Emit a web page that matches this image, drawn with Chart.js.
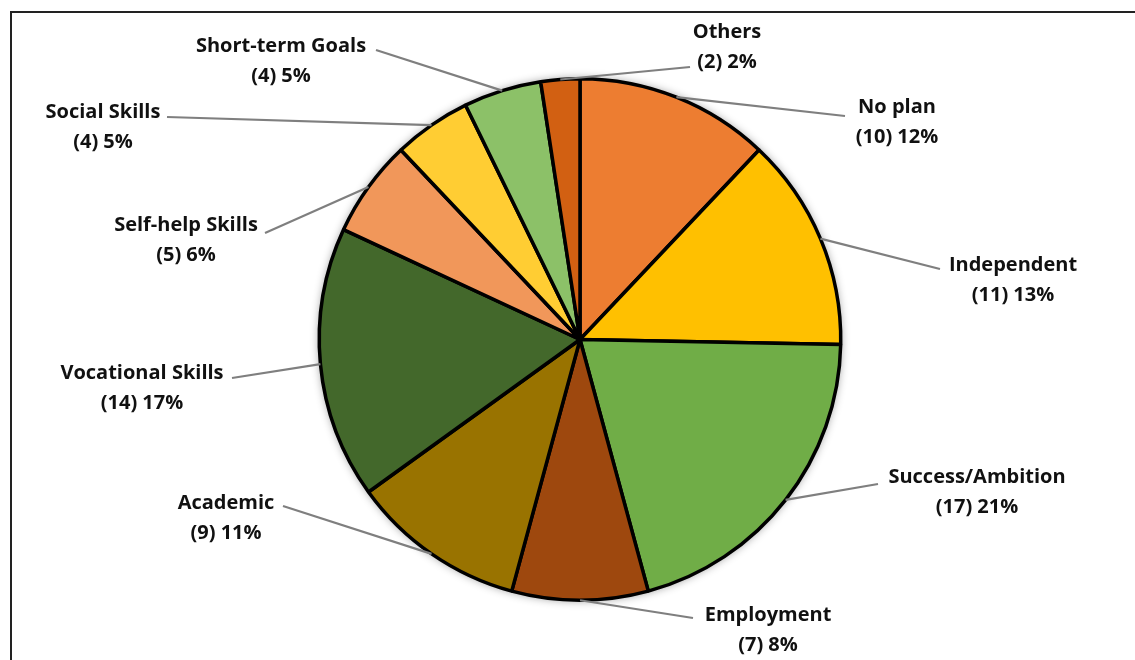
<!DOCTYPE html>
<html>
<head>
<meta charset="utf-8">
<script src="https://cdn.jsdelivr.net/npm/chart.js@4.4.0/dist/chart.umd.min.js"></script>
<style>
  html, body { margin: 0; padding: 0; background: #fff; overflow: hidden; }
  #wrap { position: relative; width: 1135px; height: 660px; }
  #frame { position: absolute; left: 10px; top: 11px; width: 1200px; height: 700px; border: 2px solid #222; }
  canvas { position: absolute; left: 0; top: 0; }
</style>
</head>
<body>
<div id="wrap">
  <div id="frame"></div>
  <canvas id="pie" width="1135" height="660"></canvas>
</div>
<script>
// Data (clockwise from 12 o'clock)
const categories = ['No plan', 'Independent', 'Success/Ambition', 'Employment', 'Academic',
  'Vocational Skills', 'Self-help Skills', 'Social Skills', 'Short-term Goals', 'Others'];
const counts = [10, 11, 17, 7, 9, 14, 5, 4, 4, 2];
const percents = [12, 13, 21, 8, 11, 17, 6, 5, 5, 2];
const colors = ['#ED7D31', '#FFC000', '#70AD47', '#9E480E', '#997300',
  '#43682B', '#F1975A', '#FFCD33', '#8CC168', '#D26012'];

// label text anchors (centre of the first line) and leader end points
const labelPos = [[897, 107], [1013, 265], [977, 477], [768, 615], [226, 503],
  [142, 373], [186, 225], [103, 112], [281, 46], [727, 32]];
const leaderEnd = [[845, 116], [940, 269], [878, 484], [693, 618], [283, 506],
  [232, 378], [265, 233], [167, 117], [376, 50], [690, 67]];

const shadowPlugin = {
  id: 'shadow',
  beforeDatasetsDraw(chart) {
    const arc = chart.getDatasetMeta(0).data[0];
    const ctx = chart.ctx;
    ctx.save();
    ctx.shadowColor = 'rgba(0,0,0,0.45)';
    ctx.shadowBlur = 10;
    ctx.beginPath();
    ctx.arc(arc.x, arc.y, arc.outerRadius, 0, Math.PI * 2);
    ctx.fillStyle = '#fff';
    ctx.fill();
    ctx.restore();
  }
};

const labelPlugin = {
  id: 'outLabels',
  afterDatasetsDraw(chart) {
    const ctx = chart.ctx;
    const meta = chart.getDatasetMeta(0);
    ctx.save();
    meta.data.forEach((arc, i) => {
      const mid = (arc.startAngle + arc.endAngle) / 2;
      const sx = arc.x + Math.cos(mid) * arc.outerRadius;
      const sy = arc.y + Math.sin(mid) * arc.outerRadius;
      ctx.strokeStyle = '#7f7f7f';
      ctx.lineWidth = 2.2;
      ctx.beginPath();
      ctx.moveTo(sx, sy);
      ctx.lineTo(leaderEnd[i][0], leaderEnd[i][1]);
      ctx.stroke();

      ctx.fillStyle = '#111';
      ctx.font = 'bold 20px "Open Sans"';
      ctx.textAlign = 'center';
      ctx.textBaseline = 'middle';
      ctx.fillText(categories[i], labelPos[i][0], labelPos[i][1]);
      ctx.fillText('(' + counts[i] + ') ' + percents[i] + '%', labelPos[i][0], labelPos[i][1] + 30);
    });
    ctx.restore();
  }
};

new Chart(document.getElementById('pie'), {
  type: 'pie',
  data: {
    labels: categories,
    datasets: [{
      data: counts,
      backgroundColor: colors,
      borderColor: '#000',
      borderWidth: 3.5,
      borderAlign: 'center'
    }]
  },
  options: {
    responsive: false,
    animation: false,
    layout: { padding: { left: 317, right: 292, top: 77, bottom: 58 } },
    plugins: { legend: { display: false }, tooltip: { enabled: false } }
  },
  plugins: [shadowPlugin, labelPlugin]
});
</script>
</body>
</html>
